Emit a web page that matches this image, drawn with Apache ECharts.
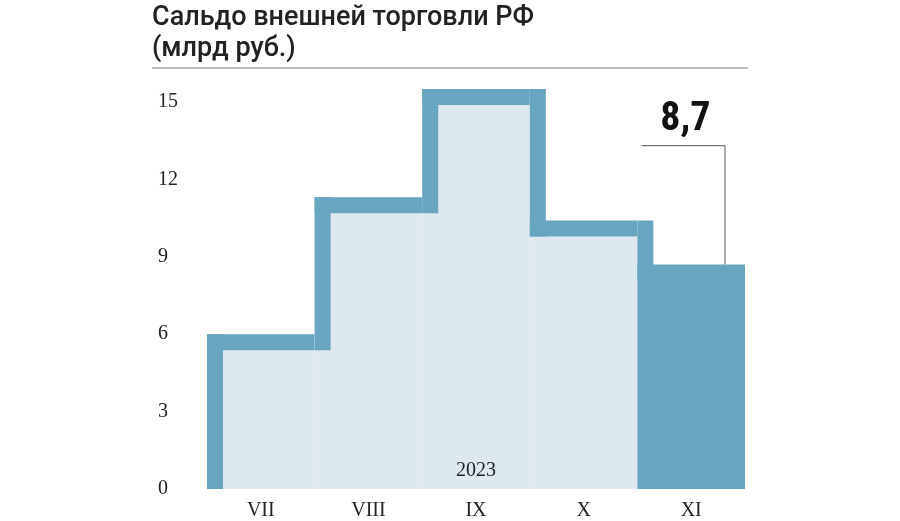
<!DOCTYPE html>
<html>
<head>
<meta charset="utf-8">
<script src="https://cdn.jsdelivr.net/npm/echarts@6/dist/echarts.min.js"></script>
<style>html,body{margin:0;padding:0;background:#fff}#chart{width:900px;height:521px}</style>
</head>
<body>
<div id="chart"></div>
<script>
var months = ['VII', 'VIII', 'IX', 'X', 'XI'];
var values = [6.0, 11.3, 15.5, 10.4, 8.7];
var yearLabel = '2023';
var lastLabel = '8,7';

var DARK = '#67a5c0', LIGHT = '#dde8ef', T = 16;
var chart = echarts.init(document.getElementById('chart'));

function renderBar(params, api) {
  var i = params.dataIndex;
  var v = api.value(1);
  var half = api.size([1, 0])[0] / 2;
  var c = api.coord([i, v]);
  var base = api.coord([i, 0])[1];
  var left = c[0] - half, right = c[0] + half, top = c[1];
  var kids = [];
  var last = i === values.length - 1;
  if (last) {
    kids.push({ type: 'rect', shape: { x: left, y: top, width: right - left, height: base - top }, style: { fill: DARK } });
    var lx = right - 20;
    var ly = api.coord([i, 13.3])[1];
    kids.push({ type: 'polyline', shape: { points: [[left + 4, ly], [lx, ly], [lx, top]] }, style: { stroke: '#555', lineWidth: 1, fill: null } });
    kids.push({ type: 'text', style: { text: lastLabel, x: left + 48, y: ly - 6, textAlign: 'center', textVerticalAlign: 'bottom', font: 'bold 40px "Roboto Condensed", "Liberation Sans Narrow", Roboto, sans-serif', fill: '#111' } });
  } else {
    kids.push({ type: 'rect', shape: { x: left, y: top + T, width: right - left, height: base - top - T }, style: { fill: LIGHT } });
    kids.push({ type: 'rect', shape: { x: left, y: top, width: right - left, height: T }, style: { fill: DARK } });
  }
  var vTop, vBot;
  if (i === 0) { vTop = top; vBot = base; }
  else {
    var pv = api.coord([i - 1, values[i - 1]])[1];
    vTop = Math.min(top, pv);
    vBot = Math.max(top, pv) + T;
  }
  kids.push({ type: 'rect', shape: { x: left, y: vTop, width: T, height: vBot - vTop }, style: { fill: DARK } });
  if (i === 2) {
    kids.push({ type: 'text', style: { text: yearLabel, x: c[0], y: base - 8, textAlign: 'center', textVerticalAlign: 'bottom', font: '20px "Liberation Serif", "DejaVu Serif", serif', fill: '#222' } });
  }
  return { type: 'group', children: kids };
}

chart.setOption({
  animation: false,
  grid: { left: 207, right: 155, top: 76, bottom: 29 },
  graphic: [
    { type: 'text', left: 152, top: 3, style: { text: 'Сальдо внешней торговли РФ\n(млрд руб.)', font: '500 27px Roboto, "Liberation Sans", sans-serif', fill: '#222', lineHeight: 31 } },
    { type: 'line', shape: { x1: 152, y1: 68, x2: 748, y2: 68 }, style: { stroke: '#777', lineWidth: 1.2 } }
  ],
  xAxis: {
    type: 'category', data: months,
    axisLine: { show: false }, axisTick: { show: false },
    axisLabel: { margin: 12, fontSize: 20, color: '#222', fontFamily: '"Liberation Serif", "DejaVu Serif", serif' }
  },
  yAxis: {
    type: 'value', min: 0, max: 16, interval: 3,
    splitLine: { show: false },
    axisLabel: { showMaxLabel: false, align: 'left', margin: 49, fontSize: 20, color: '#222', fontFamily: '"Liberation Serif", "DejaVu Serif", serif' }
  },
  series: [{
    type: 'custom',
    renderItem: renderBar,
    data: values.map(function (v, i) { return [i, v]; })
  }]
});
</script>
</body>
</html>
